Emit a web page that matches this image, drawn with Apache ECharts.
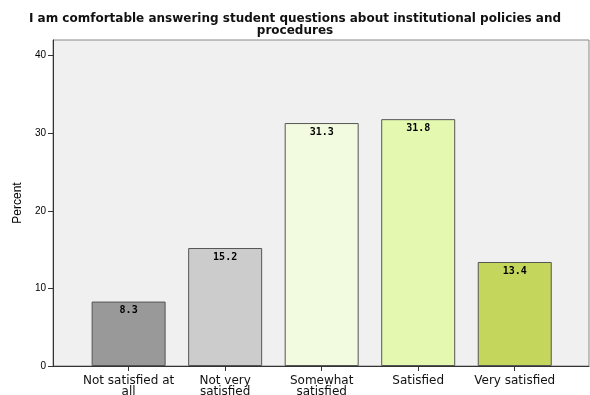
<!DOCTYPE html>
<html>
<head>
<meta charset="utf-8">
<script src="https://cdn.jsdelivr.net/npm/echarts@6/dist/echarts.min.js"></script>
<style>html,body{margin:0;padding:0;background:#fff}#c{width:590px;height:395px}</style>
</head>
<body>
<div id="c"></div>
<script>
var titleText = "I am comfortable answering student questions about institutional policies and\nprocedures";
var categories = ["Not satisfied at\nall", "Not very\nsatisfied", "Somewhat\nsatisfied", "Satisfied", "Very satisfied"];
var percents = [8.3, 15.2, 31.3, 31.8, 13.4];
var barColors = ["#999999", "#cccccc", "#f2fadf", "#e4f8b0", "#c4d65c"];
var yTicks = [0, 10, 20, 30, 40];
var yMax = 42;

var chart = echarts.init(document.getElementById('c'), null, {renderer: 'canvas'});
chart.setOption({
  animation: false,
  backgroundColor: '#ffffff',
  title: {
    text: titleText,
    left: 'center',
    top: 8,
    textStyle: {fontFamily: 'DejaVu Sans', fontWeight: 'bold', fontSize: 12, color: '#111', lineHeight: 12}
  },
  grid: [
    {left: 53, right: 1, top: 40, bottom: 29, outerBoundsMode: 'none', containLabel: false, show: true, backgroundColor: '#f0f0f0', borderColor: '#888888', borderWidth: 1},
    {left: 80.35, right: 27, top: 40, bottom: 29, outerBoundsMode: 'none', containLabel: false}
  ],
  xAxis: [
    {gridIndex: 0, type: 'category', data: [''], z: 10, axisLine: {show: true, lineStyle: {color: '#333', width: 1}}, axisTick: {show: false}, axisLabel: {show: false}},
    {gridIndex: 1, type: 'category', data: categories, boundaryGap: true,
     axisLine: {show: false},
     axisTick: {show: true, alignWithLabel: true, length: 5, lineStyle: {color: '#333'}},
     axisLabel: {fontFamily: 'DejaVu Sans', fontSize: 12, color: '#111', lineHeight: 11, margin: 9, interval: 0}}
  ],
  yAxis: [
    {gridIndex: 0, type: 'value', min: 0, max: yMax,
     name: 'Percent', nameLocation: 'middle', nameGap: 23, nameRotate: 90,
     nameTextStyle: {fontFamily: 'Liberation Sans', fontSize: 12, color: '#000'},
     axisLine: {show: true, lineStyle: {color: '#333'}},
     axisTick: {show: true, length: 5, customValues: yTicks, lineStyle: {color: '#333'}},
     axisLabel: {customValues: yTicks, fontFamily: 'Liberation Sans', fontSize: 10, color: '#000', margin: 7},
     splitLine: {show: false}},
    {gridIndex: 1, type: 'value', min: 0, max: yMax, show: false, splitLine: {show: false}}
  ],
  series: [{
    type: 'bar',
    xAxisIndex: 1,
    yAxisIndex: 1,
    barWidth: 74,
    data: percents.map(function (v, i) {
      return {value: v, itemStyle: {color: barColors[i], borderColor: '#555555', borderWidth: 1}};
    }),
    label: {
      show: true,
      position: 'insideTop',
      distance: 4,
      formatter: function (p) { return p.value.toFixed(1); },
      fontFamily: 'DejaVu Sans Mono',
      fontWeight: 'bold',
      fontSize: 10,
      color: '#000'
    }
  }]
});
</script>
</body>
</html>
